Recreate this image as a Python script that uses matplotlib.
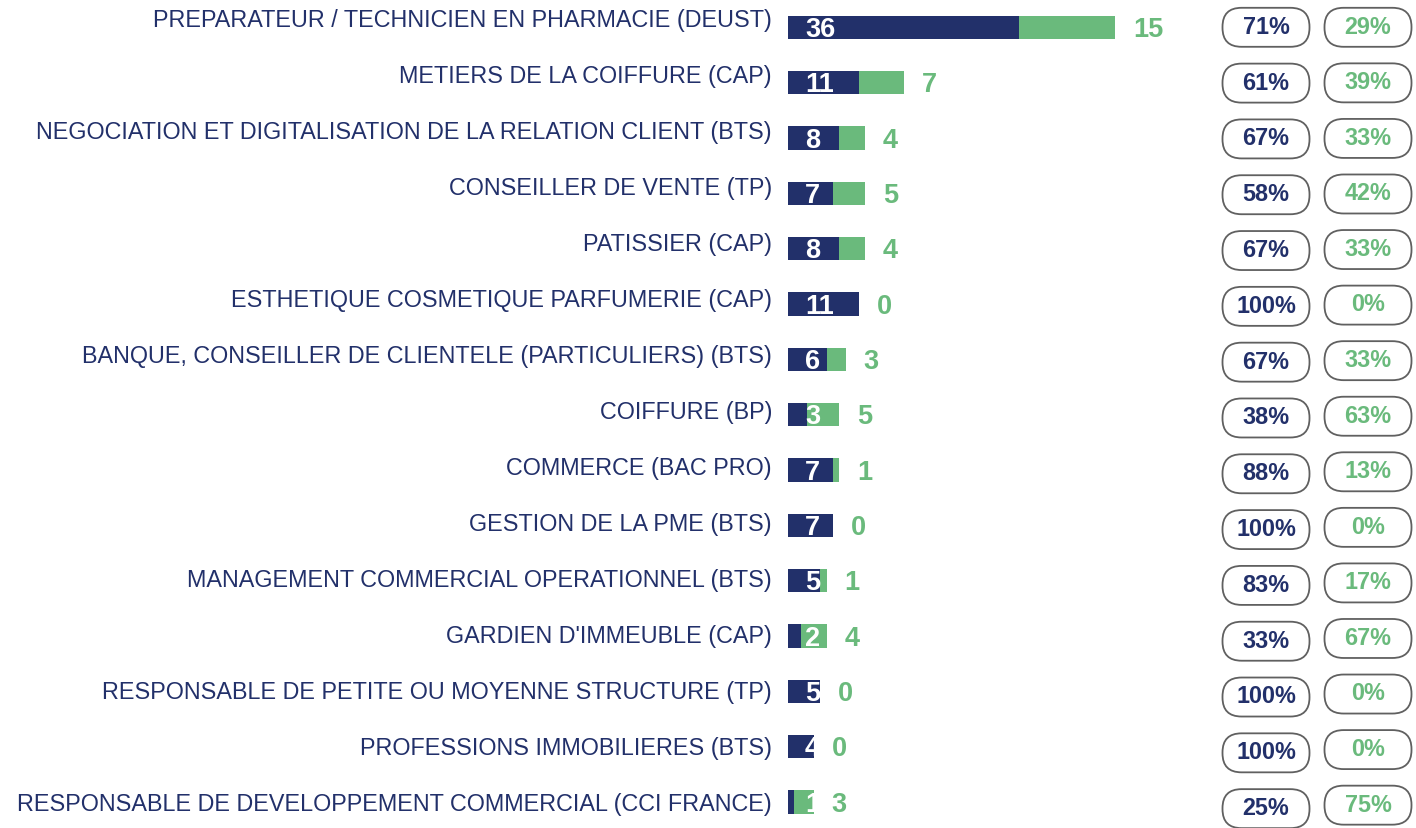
import numpy as np
import matplotlib
matplotlib.use("Agg")
import matplotlib.pyplot as plt
from matplotlib.patches import FancyBboxPatch, Rectangle

plt.rcParams['font.family'] = ['Liberation Sans', 'DejaVu Sans']

formations = [
    "PREPARATEUR / TECHNICIEN EN PHARMACIE (DEUST)",
    "METIERS DE LA COIFFURE (CAP)",
    "NEGOCIATION ET DIGITALISATION DE LA RELATION CLIENT (BTS)",
    "CONSEILLER DE VENTE (TP)",
    "PATISSIER (CAP)",
    "ESTHETIQUE COSMETIQUE PARFUMERIE (CAP)",
    "BANQUE, CONSEILLER DE CLIENTELE (PARTICULIERS) (BTS)",
    "COIFFURE (BP)",
    "COMMERCE (BAC PRO)",
    "GESTION DE LA PME (BTS)",
    "MANAGEMENT COMMERCIAL OPERATIONNEL (BTS)",
    "GARDIEN D'IMMEUBLE (CAP)",
    "RESPONSABLE DE PETITE OU MOYENNE STRUCTURE (TP)",
    "PROFESSIONS IMMOBILIERES (BTS)",
    "RESPONSABLE DE DEVELOPPEMENT COMMERCIAL (CCI FRANCE)",
]
serie_bleue = [36, 11, 8, 7, 8, 11, 6, 3, 7, 7, 5, 2, 5, 4, 1]
serie_verte = [15, 7, 4, 5, 4, 0, 3, 5, 1, 0, 1, 4, 0, 0, 3]
pct_bleu = [71, 61, 67, 58, 67, 100, 67, 38, 88, 100, 83, 33, 100, 100, 25]
pct_vert = [29, 39, 33, 42, 33, 0, 33, 63, 13, 0, 17, 67, 0, 0, 75]

NAVY = '#22306a'
GREEN = '#6aba7c'
EDGE = '#606060'

W, H = 1416, 829
fig = plt.figure(figsize=(W / 100, H / 100), dpi=100)

# pixel layout
x0 = 788          # bar origin
pxu = 6.42        # pixels per unit
y_first, step = 28.3, 55.34
top_px = y_first - 0.5 * step
bot_px = y_first + 14.5 * step
ax = fig.add_axes([x0 / W, (H - bot_px) / H, (W - x0) / W, (bot_px - top_px) / H])
ax.set_xlim(0, (W - x0) / pxu)
ax.set_ylim(14.5, -0.5)
ax.axis('off')

n = len(formations)
y = np.arange(n)
bleu = np.array(serie_bleue)
vert = np.array(serie_verte)
bar_h = 0.42

bars_b = ax.barh(y, bleu, height=bar_h, color=NAVY, edgecolor='none')
bars_v = ax.barh(y, vert, left=bleu, height=bar_h, color=GREEN, edgecolor='none')

ma = pxu / step  # aspect correction for rounded boxes
for i in range(n):
    total = bleu[i] + vert[i]
    # category label
    ax.text(-16 / pxu, i * 1.0121 - 0.14, formations[i], ha='right', va='center',
            fontsize=16.8, color=NAVY, clip_on=False)
    # white value inside the bar, clipped to the bar
    t = ax.text(17 / pxu, i + 0.03, str(bleu[i]), ha='left', va='center',
                fontsize=19.5, fontweight='bold', color='white')
    clip = Rectangle((0, i - bar_h / 2), total, bar_h, transform=ax.transData,
                     visible=False)
    ax.add_patch(clip)
    t.set_clip_path(clip)
    # green value after the bar
    ax.text(total + 18 / pxu, i + 0.03, str(vert[i]), ha='left', va='center',
            fontsize=19.5, fontweight='bold', color=GREEN)

    # percentage pills
    for cx_px, yy, txt, col in [(1266, i * 1.0085, pct_bleu[i], NAVY),
                                (1368, i * 1.004, pct_vert[i], GREEN)]:
        cx = (cx_px - x0) / pxu
        w = 87 / pxu
        h = 39 / step
        r = 19 / pxu
        pill = FancyBboxPatch((cx - w / 2, yy - h / 2), w, h,
                              boxstyle=f"round,pad=0,rounding_size={r}",
                              mutation_aspect=ma, facecolor='white',
                              edgecolor=EDGE, linewidth=1.3, clip_on=False)
        ax.add_patch(pill)
        ax.text(cx, yy - 0.02, f"{txt}%", ha='center', va='center',
                fontsize=16.8, fontweight='bold', color=col, clip_on=False)

fig.savefig('out.png', dpi=100, facecolor='white')
